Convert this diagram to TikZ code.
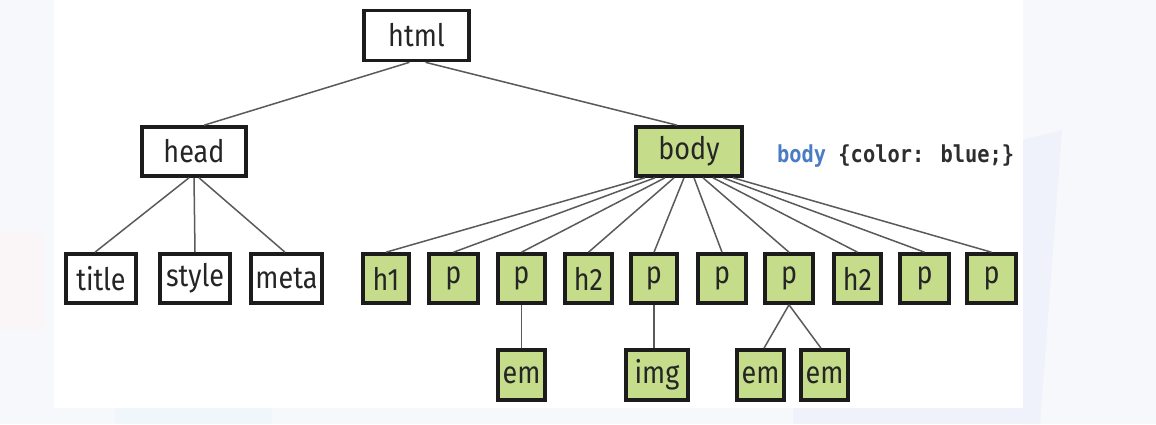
\documentclass[tikz,border=0pt]{standalone}
\usepackage{fontspec}
\usepackage{graphicx}
\setmainfont{Fira Sans}
\newfontfamily\codefont{DejaVu Sans Mono}
\definecolor{bgpale}{HTML}{F6F8FC}
\definecolor{wmblue}{HTML}{EFF2FA}
\definecolor{wmpink}{HTML}{FAF5F7}
\definecolor{wmcyan}{HTML}{F0F7FA}
\definecolor{leafgreen}{HTML}{C5DD8B}
\definecolor{boxline}{HTML}{1C1C1C}
\definecolor{edgegray}{HTML}{5A5A5A}
\definecolor{txt}{HTML}{252525}
\definecolor{cssblue}{HTML}{4A7CC4}
\definecolor{csstxt}{HTML}{2E2E2E}
\newcommand\narrowtext[1]{\scalebox{0.87}[1]{#1}}
\tikzset{
  elem/.style={draw=boxline, line width=3.6pt, inner sep=0pt, text=txt,
    font=\fontsize{31}{34}\selectfont, minimum height=49pt},
  plainbox/.style={elem, fill=white},
  greenbox/.style={elem, fill=leafgreen},
  edge/.style={draw=edgegray, line width=1.5pt},
}
\begin{document}
\begin{tikzpicture}[x=1pt, y=-1pt]
\useasboundingbox (0,0) rectangle (1156,424);
% background and watermark traces
\fill[bgpale] (0,0) rectangle (1156,424);
\fill[wmpink] (0,232) -- (45,232) -- (45,330) -- (0,330) -- cycle;
\fill[wmcyan] (115,408) rectangle (272,424);
\fill[wmblue] (1023,140) -- (1062,130) -- (1040,424) -- (1023,424) -- cycle;
\fill[wmblue] (793,408) rectangle (1040,424);
\fill[white] (54,0) rectangle (1023,408);

% nodes
\node[plainbox, minimum width=105pt, minimum height=50pt] (html) at (416.5,35.5) {\narrowtext{html}};
\node[plainbox, minimum width=104pt] (head) at (194,151.5) {\narrowtext{head}};
\node[greenbox, minimum width=106pt] (body) at (689,151.5) {\narrowtext{body}};

\node[plainbox, minimum width=70pt] (title) at (101,278.5) {\narrowtext{title}};
\node[plainbox, minimum width=70pt] (style) at (195,278.5) {\narrowtext{style}};
\node[plainbox, minimum width=71pt] (meta) at (286.5,278.5) {\narrowtext{meta}};

\node[greenbox, minimum width=46pt] (h1) at (386,278.5) {\narrowtext{h1}};
\node[greenbox, minimum width=49pt] (p1) at (453.5,278.5) {\narrowtext{p}};
\node[greenbox, minimum width=47pt] (p2) at (521.5,278.5) {\narrowtext{p}};
\node[greenbox, minimum width=47pt] (h2a) at (588.5,278.5) {\narrowtext{h2}};
\node[greenbox, minimum width=46pt] (p3) at (654,278.5) {\narrowtext{p}};
\node[greenbox, minimum width=48pt] (p4) at (722,278.5) {\narrowtext{p}};
\node[greenbox, minimum width=48pt] (p5) at (789,278.5) {\narrowtext{p}};
\node[greenbox, minimum width=47pt] (h2b) at (857.5,278.5) {\narrowtext{h2}};
\node[greenbox, minimum width=49pt] (p6) at (924.5,278.5) {\narrowtext{p}};
\node[greenbox, minimum width=49pt] (p7) at (991.5,278.5) {\narrowtext{p}};

\node[greenbox, minimum width=47pt, minimum height=50pt] (em1) at (521.5,375) {\narrowtext{em}};
\node[greenbox, minimum width=62pt, minimum height=50pt] (img) at (657,375) {\narrowtext{img}};
\node[greenbox, minimum width=47pt, minimum height=50pt] (em2) at (760.5,375) {\narrowtext{em}};
\node[greenbox, minimum width=47pt, minimum height=50pt] (em3) at (824.5,375) {\narrowtext{em}};

\node[anchor=base west, inner sep=0pt, font=\codefont\bfseries\fontsize{23.4}{26}\selectfont, text=csstxt] (rule) at (777,162)
  {\narrowtext{\textcolor{cssblue}{body} \{color: blue;\}}};

% connectors
\draw[edge] ([xshift=-7pt]html.south) -- ([xshift=10pt]head.north);
\draw[edge] ([xshift=9pt]html.south) -- ([xshift=-12pt]body.north);

\draw[edge] ([xshift=-5pt]head.south) -- ([xshift=-6pt]title.north);
\draw[edge] (head.south) -- (style.north);
\draw[edge] ([xshift=5pt]head.south) -- ([xshift=-1.5pt]meta.north);

\draw[edge] ([xshift=-44pt]body.south) -- (h1.north);
\draw[edge] ([xshift=-34pt]body.south) -- (p1.north);
\draw[edge] ([xshift=-24pt]body.south) -- (p2.north);
\draw[edge] ([xshift=-15pt]body.south) -- (h2a.north);
\draw[edge] ([xshift=-5pt]body.south) -- (p3.north);
\draw[edge] ([xshift=5pt]body.south) -- (p4.north);
\draw[edge] ([xshift=14pt]body.south) -- (p5.north);
\draw[edge] ([xshift=24pt]body.south) -- (h2b.north);
\draw[edge] ([xshift=34pt]body.south) -- (p6.north);
\draw[edge] ([xshift=44pt]body.south) -- (p7.north);

\draw[edge] (p2.south) -- (em1.north);
\draw[edge] (p3.south) -- ([xshift=-3pt]img.north);
\draw[edge] (p5.south) -- ([xshift=3.5pt]em2.north);
\draw[edge] (p5.south) -- ([xshift=-3.5pt]em3.north);
\end{tikzpicture}
\end{document}
